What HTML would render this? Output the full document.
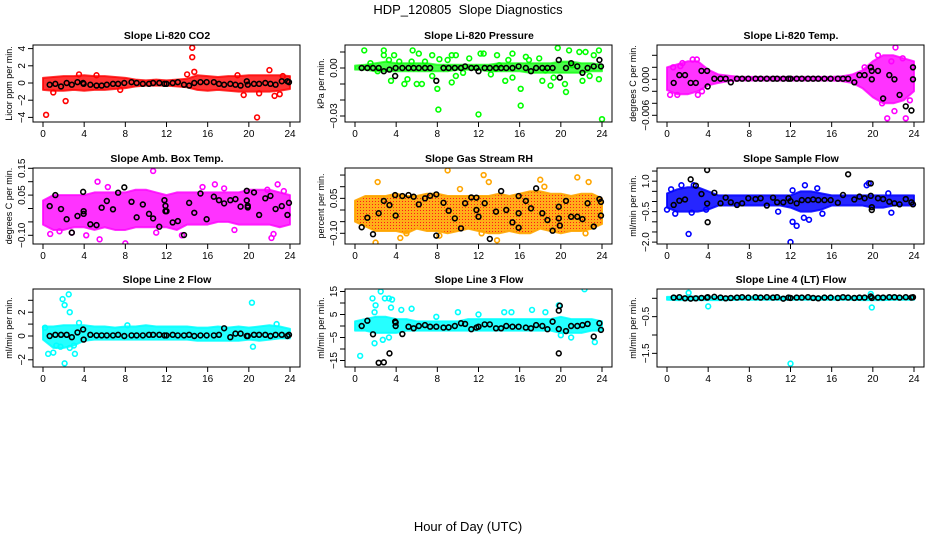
<!DOCTYPE html>
<html><head><meta charset="utf-8"><style>
html,body{margin:0;padding:0;background:#fff;}
svg{display:block;font-family:"Liberation Sans",sans-serif;}
</style></head><body>
<svg id="chart" width="936" height="540" viewBox="0 0 936 540">
<defs>
<pattern id="rhpat" width="3" height="3" patternUnits="userSpaceOnUse"><rect width="3" height="3" fill="#ffa500"/><rect width="1" height="1" fill="#ff0000"/></pattern>
</defs>
<text x="468" y="14" text-anchor="middle" font-size="13">HDP_120805&#160; Slope Diagnostics</text>
<text x="468" y="531" text-anchor="middle" font-size="13">Hour of Day (UTC)</text>
<g id="plots"></g>
</svg>
<script>
// ---------- data ----------
const blackHours = [0.65,1.2,1.75,2.3,2.8,3.35,3.9,3.95,4.6,5.2,5.7,6.2,6.8,7.3,7.9,8.6,9.1,9.7,10.3,10.7,11.3,11.8,12.0,12.6,13.1,13.7,14.2,14.7,15.3,15.9,16.6,17.1,17.6,18.2,18.7,19.2,19.8,19.9,20.5,21.0,21.6,22.1,22.6,23.2,23.75,23.9];
const bandHours = [0,1,2,3,4,5,6,7,8,9,10,11,12,13,14,15,16,17,18,19,20,21,22,23,24];

const co2Black = [-0.2,-0.1,-0.4,0.0,-0.2,0.1,0.0,-0.1,-0.2,-0.3,-0.3,-0.2,-0.1,-0.1,0.0,0.1,0.0,-0.1,-0.1,0.0,0.0,-0.1,-0.1,0.0,0.1,-0.2,-0.3,0.0,0.1,0.1,0.1,-0.1,-0.2,-0.1,-0.2,-0.3,0.2,-0.2,-0.1,-0.1,0.0,-0.1,-0.2,0.2,0.2,0.1];
const co2Hi = [0.6,0.7,0.8,0.8,0.9,0.8,0.8,0.7,0.6,0.4,0.3,0.4,0.3,0.4,0.5,0.9,0.8,0.7,0.8,0.8,0.9,0.9,0.9,0.9,0.8];
const co2Lo = [-0.8,-0.9,-0.9,-0.8,-0.9,-0.8,-0.8,-0.7,-0.6,-0.4,-0.3,-0.3,-0.3,-0.4,-0.5,-0.8,-0.9,-0.8,-0.9,-1.0,-1.0,-1.0,-1.0,-0.9,-0.7];
const co2Out = [[0.3,-3.7],[1.0,-1.1],[2.2,-2.1],[3.5,1.0],[5.2,0.9],[14.5,4.1],[14.5,3.0],[14.7,1.3],[14.0,1.0],[20.8,-4.0],[22.0,1.5],[22.5,-1.5],[23.0,-1.3],[19.5,-1.4],[21.0,-1.2],[7.5,-0.8],[18.9,0.9],[23.3,0.8]];
const co2Extra = [];

const presBlack = [0,0,0,0,-0.002,-0.001,-0.005,0,0,0,0,0,0,0,-0.008,0,0,0,0,0.001,0,0,-0.002,0,0,0,0,0,0,0.001,0,-0.002,0,0,0,0,0.005,-0.006,0,0.003,0.001,-0.003,0,0.001,0.005,0.001];
const presHi = [0.0015,0.002,0.003,0.004,0.003,0.003,0.003,0.003,0.002,0.002,0.002,0.002,0.002,0.002,0.003,0.003,0.003,0.003,0.003,0.003,0.004,0.004,0.003,0.003,0.002];
const presLo = [-0.001,-0.001,-0.002,-0.002,-0.002,-0.002,-0.002,-0.002,-0.002,-0.002,-0.001,-0.001,-0.001,-0.002,-0.002,-0.002,-0.002,-0.003,-0.003,-0.003,-0.003,-0.003,-0.003,-0.002,-0.002];
const presOut = [[0.9,0.011],[2.8,0.011],[2.8,0.008],[3.8,0.008],[3.5,-0.008],[4.8,-0.010],[5.1,-0.007],[5.6,0.011],[6.2,0.009],[6.0,-0.01],[6.5,-0.01],[7.5,0.008],[7.5,-0.005],[8.0,-0.013],[8.1,-0.026],[8.2,0.0055],[9.0,0.005],[9.4,0.008],[9.8,0.008],[9.4,-0.009],[9.8,-0.005],[12.0,-0.029],[12.2,0.009],[12.5,0.009],[13.2,-0.004],[13.8,0.008],[14.6,-0.008],[15.3,0.009],[15.3,-0.006],[16.1,-0.013],[16.1,-0.0235],[16.6,0.007],[18.2,-0.008],[19.0,-0.011],[19.7,0.0125],[20.4,-0.010],[20.5,-0.015],[20.8,0.011],[21.8,0.010],[22.1,-0.008],[22.4,0.010],[23.2,0.008],[23.7,0.011],[23.7,-0.007],[24.0,-0.032],[17.9,0.006],[18.5,-0.0015],[21.1,0.0017],[14.0,0.0017],[4.3,0.004],[3.3,0.005],[11.1,0.006],[13.7,-0.0005],[5.5,0.004],[6.8,0.004],[10.5,-0.003],[14.9,0.005],[16.9,0.005],[19.3,-0.006],[22.8,-0.005],[1.5,0.003],[2.2,-0.002]];
const presExtra = [];

const tempBlack = [-0.0006,0.0007,0.0007,-0.0006,-0.0006,0.0014,0.0014,-0.0012,0.0001,0.0001,0.0001,-0.0005,0.0001,0.0001,0.0001,0.0001,0.0001,0.0001,0.0001,0.0001,0.0001,0.0001,0.0001,0.0001,0.0001,0.0001,0.0001,0.0001,0.0001,0.0001,0.0001,0.0001,0.0001,-0.0005,0.0007,0.0007,0.002,0,0.0014,-0.0032,0.0007,0,-0.0026,-0.0045,-0.0052,0.002];
const tempHi = [0.002,0.0025,0.003,0.003,0.0016,0.0008,0.0006,0.0004,0.0004,0.0004,0.0004,0.0004,0.0004,0.0004,0.0004,0.0004,0.0004,0.0005,0.0008,0.0015,0.003,0.004,0.004,0.0035,0.003];
const tempLo = [-0.0018,-0.0025,-0.0025,-0.002,-0.001,-0.0006,-0.0003,-0.0002,-0.0002,-0.0002,-0.0002,-0.0002,-0.0002,-0.0002,-0.0002,-0.0002,-0.0002,-0.0003,-0.0006,-0.0015,-0.003,-0.004,-0.004,-0.0035,-0.002];
const tempOut = [[2.5,0.0033],[2.9,0.0033],[1.5,0.0027],[0.3,-0.0026],[1.0,-0.0026],[3.0,-0.0026],[20.5,0.004],[22.2,0.0053],[21.4,-0.0065],[23.2,-0.0065],[22.1,-0.0053],[20.9,-0.004],[19.2,0.002],[22.9,0.0035],[23.6,-0.0035],[21.8,0.003],[0.6,0.002],[1.3,0.0022],[3.4,-0.002]];
const tempExtra = [[19.9,0.0014],[23.9,0.0]];

const ambBlack = [0.009,0.05,-0.002,-0.04,-0.09,-0.028,0.062,-0.02,-0.059,-0.062,0.003,0.028,-0.003,0.059,0.079,0.025,-0.033,0.015,-0.02,-0.037,-0.068,0.031,-0.01,-0.052,-0.047,-0.099,0.021,-0.016,0.056,-0.04,0.044,0.031,0.019,0.031,0.035,0.007,0.066,0.004,0.06,-0.024,0.038,0.047,-0.002,0.009,-0.024,0.021];
const ambHi = [0.03,0.05,0.05,0.05,0.05,0.06,0.06,0.06,0.06,0.07,0.07,0.06,0.05,0.06,0.06,0.06,0.06,0.06,0.06,0.06,0.07,0.07,0.07,0.06,0.05];
const ambLo = [-0.06,-0.08,-0.08,-0.07,-0.07,-0.08,-0.07,-0.08,-0.08,-0.07,-0.07,-0.07,-0.07,-0.08,-0.06,-0.06,-0.06,-0.05,-0.05,-0.06,-0.06,-0.06,-0.06,-0.07,-0.06];
const ambOut = [[10.7,0.14],[5.3,0.1],[16.7,0.09],[15.5,0.08],[22.8,0.09],[8.0,-0.13],[5.5,-0.115],[0.7,-0.095],[4.2,-0.1],[13.5,-0.1],[22.2,-0.11],[22.4,-0.095],[18.6,-0.08],[1.6,-0.085],[2.8,-0.09],[11,-0.09],[21.8,0.07],[23.4,0.065],[6.3,0.08],[17.6,0.075]];
const ambExtra = [[3.95,-0.01],[11.9,0.01],[11.9,-0.01],[19.8,0.03],[19.9,0.01]];

const rhBlack = [-0.074,-0.033,-0.104,-0.014,0.039,0.021,0.064,-0.024,0.06,0.064,0.057,0.024,0.05,0.061,0.067,0.031,-0.003,-0.036,-0.079,0.029,0.054,0.053,-0.029,0.029,-0.124,-0.007,0.081,0,-0.053,0.06,0.039,0.007,0.093,-0.014,-0.043,-0.089,0.014,-0.067,0.039,-0.029,-0.029,-0.039,0.029,-0.071,0.047,-0.024];
const rhHi = [0.04,0.06,0.06,0.06,0.07,0.06,0.06,0.07,0.07,0.06,0.06,0.06,0.06,0.06,0.07,0.06,0.07,0.08,0.08,0.07,0.07,0.06,0.07,0.07,0.05];
const rhLo = [-0.05,-0.07,-0.09,-0.09,-0.09,-0.10,-0.08,-0.09,-0.09,-0.10,-0.09,-0.08,-0.09,-0.10,-0.10,-0.09,-0.10,-0.10,-0.08,-0.09,-0.10,-0.09,-0.09,-0.08,-0.06];
const rhOut = [[9,0.17],[2.2,0.12],[12.5,0.15],[13,0.12],[21.6,0.14],[18,0.13],[22.7,0.12],[2,-0.14],[13.8,-0.13],[8.2,-0.11],[4.4,-0.12],[5.0,-0.1],[12.3,-0.1],[22.4,-0.1],[18.4,0.1],[10.2,0.09]];
const rhExtra = [[7.9,-0.11],[15.9,-0.076],[15.9,-0.014],[19.8,-0.036],[11.8,0.0],[23.9,0.035]];

const flowBlack = [-0.17,0.04,0.1,1.09,0.78,0.37,1.55,-1.02,0.43,-0.09,0.19,-0.04,-0.17,-0.09,0.16,0.12,0.16,-0.2,0.19,-0.04,-0.04,0.16,0.02,-0.09,0.07,0.07,0.1,0.07,0.07,0.07,-0.06,0.32,1.34,0.1,0.24,0.16,0.89,-0.42,0.16,0.12,-0.01,-0.09,-0.14,0.12,-0.04,-0.14];
const flowHi = [0.4,0.6,0.7,0.7,0.5,0.3,0.3,0.3,0.3,0.3,0.3,0.3,0.3,0.5,0.5,0.4,0.3,0.3,0.3,0.3,0.3,0.3,0.3,0.3,0.3];
const flowLo = [-0.3,-0.5,-0.5,-0.5,-0.4,-0.2,-0.2,-0.2,-0.2,-0.2,-0.2,-0.2,-0.3,-0.5,-0.5,-0.4,-0.2,-0.2,-0.2,-0.2,-0.3,-0.3,-0.2,-0.2,-0.2];
const flowOut = [[2.1,-1.6],[12,-2.0],[12.2,-1.0],[12.6,-1.2],[13.3,-0.8],[15.1,-0.6],[10.8,-0.5],[0.8,-0.6],[0.0,-0.4],[1.4,0.8],[0.4,0.6],[2.6,0.8],[13.4,0.8],[14.6,0.65],[19.4,0.8],[21.8,-0.55],[21.5,0.4],[12.2,0.55],[19.6,0.9],[13.8,-0.9],[2.4,-0.55],[3.8,-0.4]];
const flowExtra = [[19.8,0.28],[19.9,-0.28],[3.9,-0.1]];

const l2Black = [0,0.1,0.1,0.1,-0.1,0.3,0.55,-0.3,0.1,0.05,0.05,0.05,0.05,0.1,0,0.05,0.05,0.05,0.1,0.1,0.1,0.05,0.05,0.1,0.05,0.05,0.1,0,0.05,0.05,0.05,0.1,0.65,-0.1,0.2,0.2,0,0,0.1,0.1,0.1,0,0.1,0.1,0,0.1];
const l2Hi = [0.8,0.8,0.9,0.9,0.9,0.8,0.8,0.7,0.8,0.8,0.9,0.8,0.8,0.8,0.8,0.7,0.7,0.8,0.7,0.8,0.7,0.8,0.9,0.8,0.6];
const l2Lo = [-0.3,-1.0,-1.0,-0.8,-0.4,-0.3,-0.3,-0.3,-0.3,-0.3,-0.3,-0.3,-0.3,-0.3,-0.3,-0.4,-0.4,-0.4,-0.4,-0.4,-0.3,-0.4,-0.3,-0.2,-0.2];
const l2Out = [[2.5,3.5],[1.9,3.1],[2.1,2.6],[2.6,2.0],[2.1,-2.3],[0.5,-1.5],[1.0,-1.4],[1.3,-0.8],[2.6,-1.0],[3.1,-1.5],[3.5,1.1],[20.3,2.8],[20.4,-0.9],[3.0,-0.8],[1.7,-0.9],[0.2,0.7],[8.2,0.9],[22.7,1.0]];
const l2Extra = [];

const l3Black = [0,2.3,-3.6,-16,-15.8,-11.9,1.9,0,-3.5,-0.3,-1,0,0.4,-0.3,-0.3,-0.7,-0.6,0,1.2,0.9,-1.4,-0.7,-0.3,0.7,0.7,-1,-1,0,-0.3,-0.3,-0.7,-1,0.4,0,-1.4,1.9,-11.9,8.8,-2.2,0,0,0.4,0.9,-4.6,1.2,-1.7];
const l3Hi = [2,3,4,4,3,3,2,2,2,2,2,3,3,3,3,3,3,3,3,3,4,3,3,3,2];
const l3Lo = [-2,-2,-3,-3,-3,-2,-2,-2,-2,-2,-2,-2,-2,-2,-2,-2,-2,-2,-2,-2,-3,-3,-3,-2,-2];
const l3Out = [[0.5,-13],[2.5,15],[1.7,12],[2.0,9],[1.9,6],[2.9,12],[3.3,12],[3.6,11.5],[1.9,-7.5],[3.3,-5],[2.7,-6],[4.5,7],[5.5,7.5],[3.5,8],[12,5],[20,-4],[21,-5],[22.3,16],[23.3,-7],[19.8,9],[15.2,6],[17.2,7],[10,6],[14.5,6],[18.5,6],[7.9,4]];
const l3Extra = [[19.8,6.7],[19.8,-1.3],[3.95,1.5]];

const l4Black = [0.02,0.03,0,-0.01,0,0.01,0.02,0.03,0.04,0.02,0,0.01,0.02,0.03,0.02,0.03,0.02,0.03,0.02,0.03,-0.01,0.02,0.01,0.02,0.02,0.03,0.01,0,0.02,0.02,0.01,0.03,0.02,0.01,0.02,0.02,0.05,0.01,0.02,0.02,0.03,0.03,0.02,0.03,0.02,0.03];
const l4Hi = [0.04,0.04,0.05,0.05,0.04,0.04,0.04,0.04,0.04,0.04,0.04,0.04,0.04,0.04,0.04,0.04,0.04,0.04,0.04,0.04,0.05,0.05,0.05,0.04,0.04];
const l4Lo = [-0.04,-0.05,-0.05,-0.05,-0.05,-0.05,-0.05,-0.04,-0.04,-0.04,-0.04,-0.04,-0.04,-0.04,-0.04,-0.04,-0.04,-0.04,-0.04,-0.05,-0.05,-0.05,-0.04,-0.04,-0.04];
const l4Out = [[12,-1.78],[4.0,-0.22],[19.9,-0.25],[2.1,0.15],[19.8,0.12]];
const l4Extra = [];

const xTicks = [0,4,8,12,16,20,24];

// ---------- layout ----------
const panels = [
 {name:'co2',title:'Slope Li-820 CO2',ylab:'Licor ppm per min.',col:0,row:0,y0:83,k:8.6,color:'#ff0000',fill:'#ff0000',op:0.8,black:co2Black,hi:co2Hi,lo:co2Lo,out:co2Out,extra:co2Extra,ticks:[4,2,0,-2,-4],labels:['4','2','0','-2','-4']},
 {name:'pressure',title:'Slope Li-820 Pressure',ylab:'kPa per min.',col:1,row:0,y0:68,k:1600,color:'#00ff00',fill:'#00ff00',op:0.7,black:presBlack,hi:presHi,lo:presLo,out:presOut,extra:presExtra,ticks:[0.01,0,-0.01,-0.02,-0.03],labels:['','0.00','','','-0.03']},
 {name:'temp',title:'Slope Li-820 Temp.',ylab:'degrees C per min.',col:2,row:0,y0:79.3,k:6000,color:'#ff00ff',fill:'#ff00ff',op:0.8,black:tempBlack,hi:tempHi,lo:tempLo,out:tempOut,extra:tempExtra,ticks:[0.004,0.002,0,-0.002,-0.004,-0.006],labels:['','','0.000','','','-0.006']},
 {name:'amb-box-temp',title:'Slope Amb. Box Temp.',ylab:'degrees C per min.',col:0,row:1,y0:208.5,k:268,color:'#ff00ff',fill:'#ff00ff',op:0.8,black:ambBlack,hi:ambHi,lo:ambLo,out:ambOut,extra:ambExtra,ticks:[0.15,0.1,0.05,0,-0.05,-0.1],labels:['0.15','','0.05','','','-0.10']},
 {name:'gas-rh',title:'Slope Gas Stream RH',ylab:'percent per min.',col:1,row:1,y0:210,k:233,color:'#ffa500',fill:'url(#rhpat)',op:0.9,black:rhBlack,hi:rhHi,lo:rhLo,out:rhOut,extra:rhExtra,ticks:[0.15,0.1,0.05,0,-0.05,-0.1],labels:['','','0.05','','','-0.10']},
 {name:'sample-flow',title:'Slope Sample Flow',ylab:'ml/min per min.',col:2,row:1,y0:201.5,k:20.3,color:'#0000ff',fill:'#0000ff',op:0.85,black:flowBlack,hi:flowHi,lo:flowLo,out:flowOut,extra:flowExtra,ticks:[1.5,1,0.5,0,-0.5,-1,-1.5,-2],labels:['','1.0','','','-0.5','','','-2.0']},
 {name:'line2-flow',title:'Slope Line 2 Flow',ylab:'ml/min per min.',col:0,row:2,y0:336,k:11.9,color:'#00ffff',fill:'#00ffff',op:0.85,black:l2Black,hi:l2Hi,lo:l2Lo,out:l2Out,extra:l2Extra,ticks:[3,2,1,0,-1,-2],labels:['','2','','0','','-2']},
 {name:'line3-flow',title:'Slope Line 3 Flow',ylab:'ml/min per min.',col:1,row:2,y0:326,k:2.3,color:'#00ffff',fill:'#00ffff',op:0.85,black:l3Black,hi:l3Hi,lo:l3Lo,out:l3Out,extra:l3Extra,ticks:[15,10,5,0,-5,-10,-15],labels:['15','','5','','-5','','-15']},
 {name:'line4-flow',title:'Slope Line 4 (LT) Flow',ylab:'ml/min per min.',col:2,row:2,y0:298.3,k:36.7,color:'#00ffff',fill:'#00ffff',op:0.9,black:l4Black,hi:l4Hi,lo:l4Lo,out:l4Out,extra:l4Extra,ticks:[0,-0.5,-1,-1.5],labels:['','-0.5','','-1.5']}
];
const rowTop=[45,168,289], rowBot=[122,244,367];
const NS='http://www.w3.org/2000/svg';
const root=document.getElementById('plots');
function mk(tag,attrs,parent){const e=document.createElementNS(NS,tag);for(const a in attrs)e.setAttribute(a,attrs[a]);parent.appendChild(e);return e;}

panels.forEach(p=>{
  const ox=p.col*312, top=rowTop[p.row], bot=rowBot[p.row];
  const xs=h=>ox+43+h*(247/24);
  const ys=v=>p.y0-v*p.k;
  const g=mk('g',{},root);
  
  
  const clip=mk('clipPath',{id:'clip-'+p.name},g);
  mk('rect',{x:ox+33,y:top,width:267,height:bot-top},clip);
  const t=mk('text',{x:ox+167,y:top-6,'text-anchor':'middle','font-size':'10.5','font-weight':'bold'},g);
  t.textContent=p.title;
  
  
  const marks=mk('g',{'clip-path':'url(#clip-'+p.name+')'},g);
  let pts=bandHours.map((h,i)=>xs(h)+','+ys(p.hi[i]));
  pts=pts.concat(bandHours.slice().reverse().map((h,j)=>xs(h)+','+ys(p.lo[bandHours.length-1-j])));
  const band=mk('polygon',{points:pts.join(' '),fill:p.fill,'fill-opacity':String(p.op),stroke:p.color,'stroke-opacity':String(p.op),'stroke-width':'2','stroke-linejoin':'round'},marks);
  
  
  p.out.forEach(d=>{
    const c=mk('circle',{cx:xs(d[0]),cy:ys(d[1]),r:2.4,fill:'none',stroke:p.color,'stroke-width':'1.6'},marks);
    
    
  });
  const blacks=p.black.map((v,i)=>[blackHours[i],v]).concat(p.extra);
  blacks.forEach(d=>{
    const c=mk('circle',{cx:xs(d[0]),cy:ys(d[1]),r:2.4,fill:'none',stroke:'#000','stroke-width':'1.6'},marks);
    
    
  });
  const fr=mk('rect',{x:ox+33,y:top,width:267,height:bot-top,fill:'none',stroke:'#000','stroke-width':'1'},g);
  
  
  xTicks.forEach(h=>{
    mk('line',{x1:xs(h),x2:xs(h),y1:bot,y2:bot+5,stroke:'#000'},g);
    const lt=mk('text',{x:xs(h),y:bot+15,'text-anchor':'middle','font-size':'10'},g);
    lt.textContent=String(h);
    
    
  });
  p.ticks.forEach((v,i)=>{
    const y=ys(v);
    mk('line',{x1:ox+28,x2:ox+33,y1:y,y2:y,stroke:'#000'},g);
    if(p.labels[i]){
      const lt=mk('text',{x:ox+25,y:y,'text-anchor':'middle','font-size':'10',transform:'rotate(-90 '+(ox+25)+' '+y+')'},g);
      lt.textContent=p.labels[i].replace('-','\u2212');
      
      
    }
  });
  const cy=(top+bot)/2;
  const yl=mk('text',{x:ox+12,y:cy,'text-anchor':'middle','font-size':'9',transform:'rotate(-90 '+(ox+12)+' '+cy+')'},g);
  yl.textContent=p.ylab;
  
  
});
</script>
</body></html>
